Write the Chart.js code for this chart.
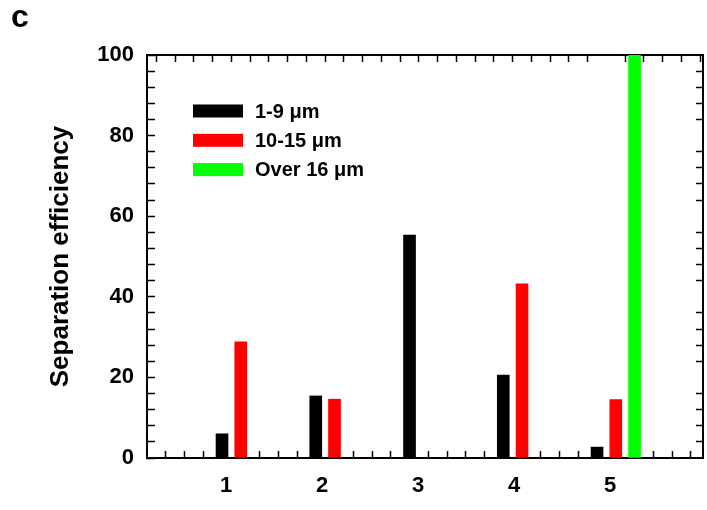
<!DOCTYPE html>
<html>
<head>
<meta charset="utf-8">
<script src="https://cdn.jsdelivr.net/npm/chart.js@4.4.1/dist/chart.umd.min.js"></script>
<style>
html,body{margin:0;padding:0;background:#fff;}
#wrap{width:707px;height:510px;position:relative;}
</style>
</head>
<body>
<div id="wrap"><canvas id="chart" width="707" height="510"></canvas></div>
<script>
// ---- data ----
const categories = [1, 2, 3, 4, 5];
const tickLabels = ['1', '2', '3', '4', '5'];
const seriesNames = ['1-9 μm', '10-15 μm', 'Over 16 μm'];
const small  = [6.0, 15.4, 55.3, 20.6, 2.7];
const medium = [28.8, 14.6, null, 43.2, 14.5];
const large  = [null, null, null, null, 100];
const yLabelValues = [0, 20, 40, 60, 80, 100];

// ---- layout constants (axis in minor-tick units) ----
const SLOT = 5;          // minor ticks per category
const X_MAX = 29.65;
const LABEL_STEP = 5.12;
const LABEL_SHIFT = -0.9;
const FONT = '"Liberation Sans", Arial, Helvetica, sans-serif';
const CLEAR = 'rgba(0,0,0,0)';

function points(values, offset) {
  const out = [];
  categories.forEach((c, i) => {
    if (values[i] !== null && values[i] !== undefined) out.push({x: c * SLOT + offset, y: values[i]});
  });
  return out;
}

const panelLetter = {
  id: 'panelLetter',
  afterDraw(chart) {
    const ctx = chart.ctx;
    ctx.save();
    ctx.fillStyle = '#000';
    ctx.font = 'bold 32px ' + FONT;
    ctx.textBaseline = 'alphabetic';
    ctx.textAlign = 'left';
    ctx.fillText('c', 11, 27);
    ctx.restore();
  }
};

const insideLegend = {
  id: 'insideLegend',
  afterDatasetsDraw(chart) {
    const {ctx, chartArea} = chart;
    ctx.save();
    chart.data.datasets.forEach((ds, i) => {
      const y = chartArea.top + 56 + i * 29.3;
      ctx.fillStyle = ds.backgroundColor;
      ctx.fillRect(chartArea.left + 46, y - 6.5, 50, 13);
      ctx.fillStyle = '#000';
      ctx.font = 'bold 20px ' + FONT;
      ctx.textBaseline = 'middle';
      ctx.textAlign = 'left';
      ctx.fillText(ds.label, chartArea.left + 108, y + 1);
    });
    ctx.restore();
  }
};

function intTicks(lo, hi, step) {
  const t = [];
  for (let v = lo; v <= hi + 1e-9; v += step) t.push({value: v});
  return t;
}
function noPad(s) { s.paddingLeft = 0; s.paddingRight = 0; s.paddingTop = 0; s.paddingBottom = 0; }

Chart.defaults.color = '#000';
Chart.defaults.font.family = FONT;

new Chart(document.getElementById('chart'), {
  type: 'bar',
  data: {
    datasets: [
      {label: seriesNames[0], data: points(small, -1), backgroundColor: '#000000'},
      {label: seriesNames[1], data: points(medium, 0), backgroundColor: '#ff0000'},
      {label: seriesNames[2], data: points(large, 1), backgroundColor: '#00ff00'}
    ]
  },
  options: {
    responsive: false,
    animation: false,
    devicePixelRatio: 1,
    events: [],
    layout: {padding: 0},
    datasets: {
      bar: {grouped: false, barThickness: 12, borderWidth: 0, xAxisID: 'x', yAxisID: 'y'}
    },
    plugins: {legend: {display: false}, tooltip: {enabled: false}, title: {display: false}},
    scales: {
      x: {
        type: 'linear', position: 'bottom', min: 0, max: X_MAX, offset: false,
        border: {display: true, color: '#000', width: 2},
        grid: {
          offset: false, drawOnChartArea: false, drawTicks: true, tickLength: -7, tickWidth: 1.5,
          tickColor: (ctx) => (ctx.tick && ctx.tick.lab) ? CLEAR : '#000'
        },
        ticks: {
          autoSkip: false, maxRotation: 0, minRotation: 0, padding: 22, color: '#000',
          font: {size: 22, weight: 'bold', family: FONT},
          callback: (v, i, ticks) => (ticks[i] && ticks[i].lab) ? ticks[i].txt : ''
        },
        afterBuildTicks: (s) => {
          const t = intTicks(1, 29, 1);
          categories.forEach((c, i) => t.push({value: c * LABEL_STEP + LABEL_SHIFT, lab: true, txt: tickLabels[i]}));
          t.sort((a, b) => a.value - b.value);
          s.ticks = t;
        },
        afterFit: (s) => { s.height = 52; noPad(s); }
      },
      xTop: {
        type: 'linear', position: 'top', min: 0, max: X_MAX, offset: false,
        border: {display: true, color: '#000', width: 2},
        grid: {
          drawOnChartArea: false, drawTicks: true, tickLength: -7, tickWidth: 1.5,
          tickColor: (ctx) => (ctx.tick && ctx.tick.value === 25) ? CLEAR : '#000'
        },
        ticks: {display: false},
        afterBuildTicks: (s) => { s.ticks = intTicks(1, 29, 1); },
        afterFit: (s) => { s.height = 55; noPad(s); }
      },
      y: {
        type: 'linear', position: 'left', min: 0, max: 100,
        border: {display: true, color: '#000', width: 2},
        grid: {drawOnChartArea: false, drawTicks: true, tickLength: -8, tickWidth: 1.5, tickColor: '#000'},
        ticks: {
          padding: 21, color: '#000', autoSkip: false,
          font: {size: 22, weight: 'bold', family: FONT},
          callback: (v) => yLabelValues.includes(v) ? String(v) : ''
        },
        title: {
          display: true, text: 'Separation efficiency', color: '#000',
          font: {size: 26, weight: 'bold', family: FONT},
          padding: {top: 45, bottom: 0}
        },
        afterBuildTicks: (s) => { s.ticks = intTicks(0, 100, 4); },
        afterFit: (s) => { s.width = 147; noPad(s); }
      },
      yRight: {
        type: 'linear', position: 'right', min: 0, max: 100,
        border: {display: true, color: '#000', width: 2},
        grid: {
          drawOnChartArea: false, drawTicks: true, tickLength: -7, tickWidth: 1.5,
          tickColor: (ctx) => (ctx.tick && ctx.tick.value % 20 === 0) ? CLEAR : '#000'
        },
        ticks: {display: false},
        afterBuildTicks: (s) => { s.ticks = intTicks(0, 100, 4); },
        afterFit: (s) => { s.width = 4; noPad(s); }
      }
    }
  },
  plugins: [panelLetter, insideLegend]
});
</script>
</body>
</html>
